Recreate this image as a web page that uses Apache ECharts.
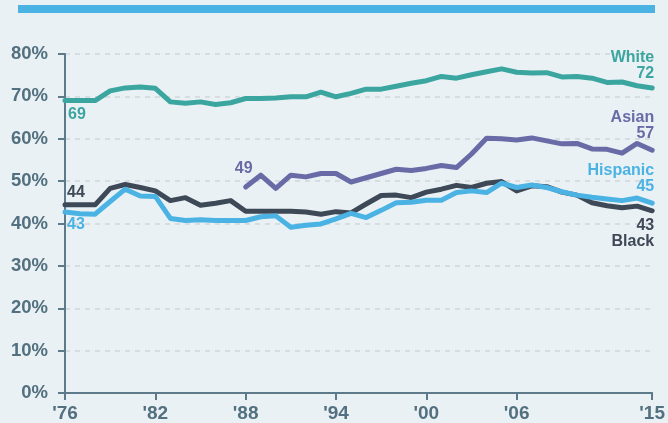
<!DOCTYPE html>
<html>
<head>
<meta charset="utf-8">
<script src="https://cdn.jsdelivr.net/npm/echarts@6/dist/echarts.min.js"></script>
<style>
  html, body { margin: 0; padding: 0; background: #eaf1f5; }
  #chart { width: 668px; height: 423px; }
</style>
</head>
<body>
<div id="chart"></div>
<script>
var years = [];
for (var y = 1976; y <= 2015; y++) years.push(y);
var tickYears = [1976, 1982, 1988, 1994, 2000, 2006, 2015];

// 1976 - 2015
var white = [69, 69, 69, 71.3, 72, 72.2, 71.9, 68.7, 68.4, 68.7, 68.1, 68.5, 69.5, 69.5, 69.6, 69.9, 69.9, 71, 69.9, 70.7,
  71.7, 71.7, 72.4, 73.1, 73.7, 74.7, 74.3, 75.1, 75.8, 76.5, 75.7, 75.5, 75.6, 74.6, 74.7, 74.3, 73.3, 73.4, 72.5, 72];
var black = [44.4, 44.4, 44.4, 48.3, 49.2, 48.5, 47.7, 45.4, 46.1, 44.3, 44.8, 45.4, 42.9, 42.9, 42.9, 42.9, 42.7, 42.2, 42.8, 42.5,
  44.6, 46.6, 46.7, 46.1, 47.4, 48.1, 49, 48.5, 49.5, 49.9, 47.7, 48.9, 48.7, 47.4, 46.7, 44.9, 44.2, 43.7, 44.1, 43];
var hispanic = [42.7, 42.3, 42.2, 45.2, 48.1, 46.5, 46.4, 41.2, 40.7, 40.9, 40.7, 40.7, 40.7, 41.6, 41.8, 39.1, 39.6, 39.9, 41.1, 42.4,
  41.4, 43.1, 44.9, 45, 45.5, 45.5, 47.3, 47.7, 47.3, 49.5, 48.5, 49.1, 48.5, 47.5, 46.7, 46.2, 45.8, 45.4, 46, 44.8];
// from 1988
var asianYears = years.slice(12);
var asian = [48.6, 51.4, 48.3, 51.4, 51, 51.8, 51.8, 49.8, 50.8, 51.8, 52.8, 52.5, 53, 53.7, 53.2, 56.4, 60.1, 60, 59.7, 60.2,
  59.5, 58.8, 58.9, 57.6, 57.5, 56.6, 58.9, 57.3];

var colors = { white: "#3ba59f", black: "#3e4957", hispanic: "#4ab3e4", asian: "#686ba6" };
var axisColor = "#5c7a89";
var labelFont = "'Liberation Sans Narrow', 'Liberation Sans', Arial, sans-serif";

function pairs(xs, vs, labels) {
  return vs.map(function (v, i) {
    var item = { value: [xs[i], v] };
    if (labels[i]) item.label = labels[i];
    return item;
  });
}

function tag(text, color, offset, align) {
  return {
    show: true,
    position: "inside",
    formatter: text,
    color: color,
    fontFamily: labelFont,
    fontWeight: "bold",
    fontSize: 16,
    lineHeight: 16,
    align: align || "center",
    verticalAlign: "middle",
    offset: offset
  };
}

var last = years.length - 1;
var whiteLabels = {}; whiteLabels[0] = tag("69", colors.white, [12, 14]); whiteLabels[last] = tag("White\n72", colors.white, [2, -22], "right");
var blackLabels = {}; blackLabels[0] = tag("44", colors.black, [11, -12]); blackLabels[last] = tag("43\nBlack", colors.black, [2, 23], "right");
var hispLabels = {}; hispLabels[0] = tag("43", colors.hispanic, [11, 13]); hispLabels[last] = tag("Hispanic\n45", colors.hispanic, [2, -25], "right");
var asianLabels = {}; asianLabels[0] = tag("49", colors.asian, [-2, -18]); asianLabels[asian.length - 1] = tag("Asian\n57", colors.asian, [2, -25], "right");

function lineSeries(name, xs, vs, labels, color) {
  return {
    name: name,
    type: "line",
    data: pairs(xs, vs, labels),
    showSymbol: true,
    symbol: "circle",
    symbolSize: 0,
    label: { show: false },
    lineStyle: { color: color, width: 5, join: "round", cap: "round" },
    itemStyle: { color: color },
    emphasis: { disabled: true },
    animation: false
  };
}

var chart = echarts.init(document.getElementById("chart"));
chart.setOption({
  backgroundColor: "#eaf1f5",
  animation: false,
  grid: { left: 65, right: 13, top: 54, bottom: 30 },
  graphic: [{
    type: "rect",
    shape: { x: 18, y: 5, width: 637, height: 8 },
    style: { fill: "#4ab3e4" }
  }],
  xAxis: {
    type: "value",
    min: 1976,
    max: 2015,
    splitLine: { show: false },
    axisLine: { show: true, lineStyle: { color: axisColor, width: 2 } },
    axisTick: { show: true, customValues: tickYears, length: 7, lineStyle: { color: axisColor, width: 2 } },
    axisLabel: {
      customValues: tickYears,
      margin: 11,
      color: "#52707f",
      fontFamily: "'Liberation Sans', Arial, sans-serif",
      fontWeight: "bold",
      fontSize: 19,
      formatter: function (v) { return "'" + String(v).slice(2); }
    }
  },
  yAxis: {
    type: "value",
    min: 0,
    max: 80,
    interval: 10,
    axisLine: { show: true, lineStyle: { color: axisColor, width: 2 } },
    axisTick: { show: true, length: 7, lineStyle: { color: axisColor, width: 2 } },
    splitLine: { show: true, lineStyle: { color: "#cfd5d8", type: [5, 5], width: 1.5 } },
    axisLabel: {
      margin: 17,
      color: "#52707f",
      fontFamily: "'Liberation Sans', Arial, sans-serif",
      fontWeight: "bold",
      fontSize: 18.5,
      formatter: "{value}%"
    }
  },
  series: [
    lineSeries("White", years, white, whiteLabels, colors.white),
    lineSeries("Asian", asianYears, asian, asianLabels, colors.asian),
    lineSeries("Black", years, black, blackLabels, colors.black),
    lineSeries("Hispanic", years, hispanic, hispLabels, colors.hispanic)
  ]
});

window.addEventListener("resize", function () { chart.resize(); });
</script>
</body>
</html>
